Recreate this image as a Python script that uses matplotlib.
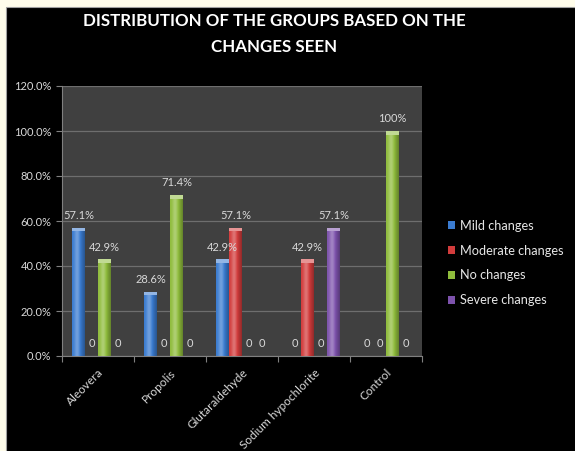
import numpy as np
import matplotlib
matplotlib.use("Agg")
import matplotlib.pyplot as plt
from matplotlib.patches import Rectangle

groups = ["Aleovera", "Propolis", "Glutaraldehyde", "Sodium hypochlorite", "Control"]
series = ["Mild changes", "Moderate changes", "No changes", "Severe changes"]
mild = [57.1, 28.6, 42.9, 0, 0]
moderate = [0, 0, 57.1, 42.9, 0]
no_change = [42.9, 71.4, 0, 0, 100]
severe = [0, 0, 0, 57.1, 0]
values = [mild, moderate, no_change, severe]
colors = ["#3a7bd0", "#d23c3c", "#8fbc3c", "#7d52ac"]

plt.rcParams['font.family'] = ['Lato', 'DejaVu Sans']

fig = plt.figure(figsize=(5.75, 4.51), dpi=100)
fig.patch.set_facecolor("#fffdeb")

# black chart area behind everything
bg = fig.add_axes([0, 0, 1, 1], zorder=-5)
bg.set_axis_off()
bg.set_xlim(0, 575)
bg.set_ylim(451, 0)
bg.add_patch(Rectangle((6, 7), 575, 451, facecolor="black", edgecolor="#a0a0a0", linewidth=0.8))

ax = fig.add_axes([62 / 575, 1 - 356 / 451, 360 / 575, 270 / 451])
ax.set_facecolor("#404040")

x = np.arange(len(groups))
w = 0.18
offsets = [-1.5 * w, -0.5 * w, 0.5 * w, 1.5 * w]


def shade(c, f):
    c = np.array(matplotlib.colors.to_rgb(c))
    if f >= 0:
        return tuple(c + (1 - c) * f)
    return tuple(c * (1 + f))


for vals, col, off, name in zip(values, colors, offsets, series):
    bars = ax.bar(x + off, vals, w * 0.95, color=col, zorder=3, label=name)
    for i, (b, v) in enumerate(zip(bars, vals)):
        if v > 0:
            # cylinder-like shading
            xs = b.get_x()
            bw = b.get_width()
            grad = np.linspace(0, 1, 32)
            prof = 0.3 * np.exp(-((grad - 0.4) ** 2) / 0.05) - 0.3 * grad ** 3
            img = np.array([[shade(col, p) for p in prof]])
            im = ax.imshow(img, extent=(xs, xs + bw, 0, v), aspect="auto", zorder=4,
                           interpolation="bilinear")
            im.set_clip_path(b)
            ax.add_patch(Rectangle((xs, v - 1.6), bw, 1.6, facecolor=shade(col, 0.45),
                                   edgecolor="none", zorder=5))
            lab = "100%" if v == 100 else f"{v:.1f}%"
            ax.annotate(lab, (x[i] + off, v), xytext=(0, 5),
                        textcoords="offset points", ha="center", va="bottom",
                        color="#d9d9d9", fontsize=8, zorder=6)
        else:
            ax.text(x[i] + off, 3, "0", ha="center", va="bottom",
                    color="#d9d9d9", fontsize=8, zorder=6)

ax.set_xlim(-0.5, len(groups) - 0.5)
ax.set_ylim(0, 120)
ax.set_yticks(np.arange(0, 121, 20))
ax.set_yticklabels([f"{t:.1f}%" for t in np.arange(0, 121, 20)])
ax.set_xticks(np.arange(-0.5, len(groups), 1), minor=False)
ax.set_xticklabels([])
ax.set_xticks(x, minor=True)
ax.set_xticklabels(groups, minor=True, rotation=45, ha="right", rotation_mode="anchor")
ax.tick_params(axis="x", which="minor", length=0, pad=8, labelsize=8.5, colors="#d9d9d9")
ax.tick_params(axis="x", which="major", length=4, color="#808080")
ax.tick_params(axis="y", length=4, color="#808080", labelsize=8, labelcolor="#d9d9d9")
ax.yaxis.grid(True, color="#6e6e6e", linewidth=0.9, zorder=1)
ax.set_axisbelow(True)
for s in ["top", "right"]:
    ax.spines[s].set_visible(False)
ax.spines["left"].set_color("#808080")
ax.spines["bottom"].set_color("#808080")

fig.text(274 / 575, 1 - 21 / 451, "DISTRIBUTION OF THE GROUPS BASED ON THE", ha="center", va="center",
         color="white", fontsize=12.2, fontweight="bold")
fig.text(274 / 575, 1 - 47 / 451, "CHANGES SEEN", ha="center", va="center",
         color="white", fontsize=12.2, fontweight="bold")

leg = fig.legend(loc="center left", bbox_to_anchor=(436 / 575, 1 - 263 / 451), frameon=False,
                 fontsize=9.2, labelcolor="#e6e6e6", handlelength=0.6, handleheight=0.6,
                 handletextpad=0.4, labelspacing=1.0)

fig.savefig("out.png", dpi=100, facecolor=fig.get_facecolor())
